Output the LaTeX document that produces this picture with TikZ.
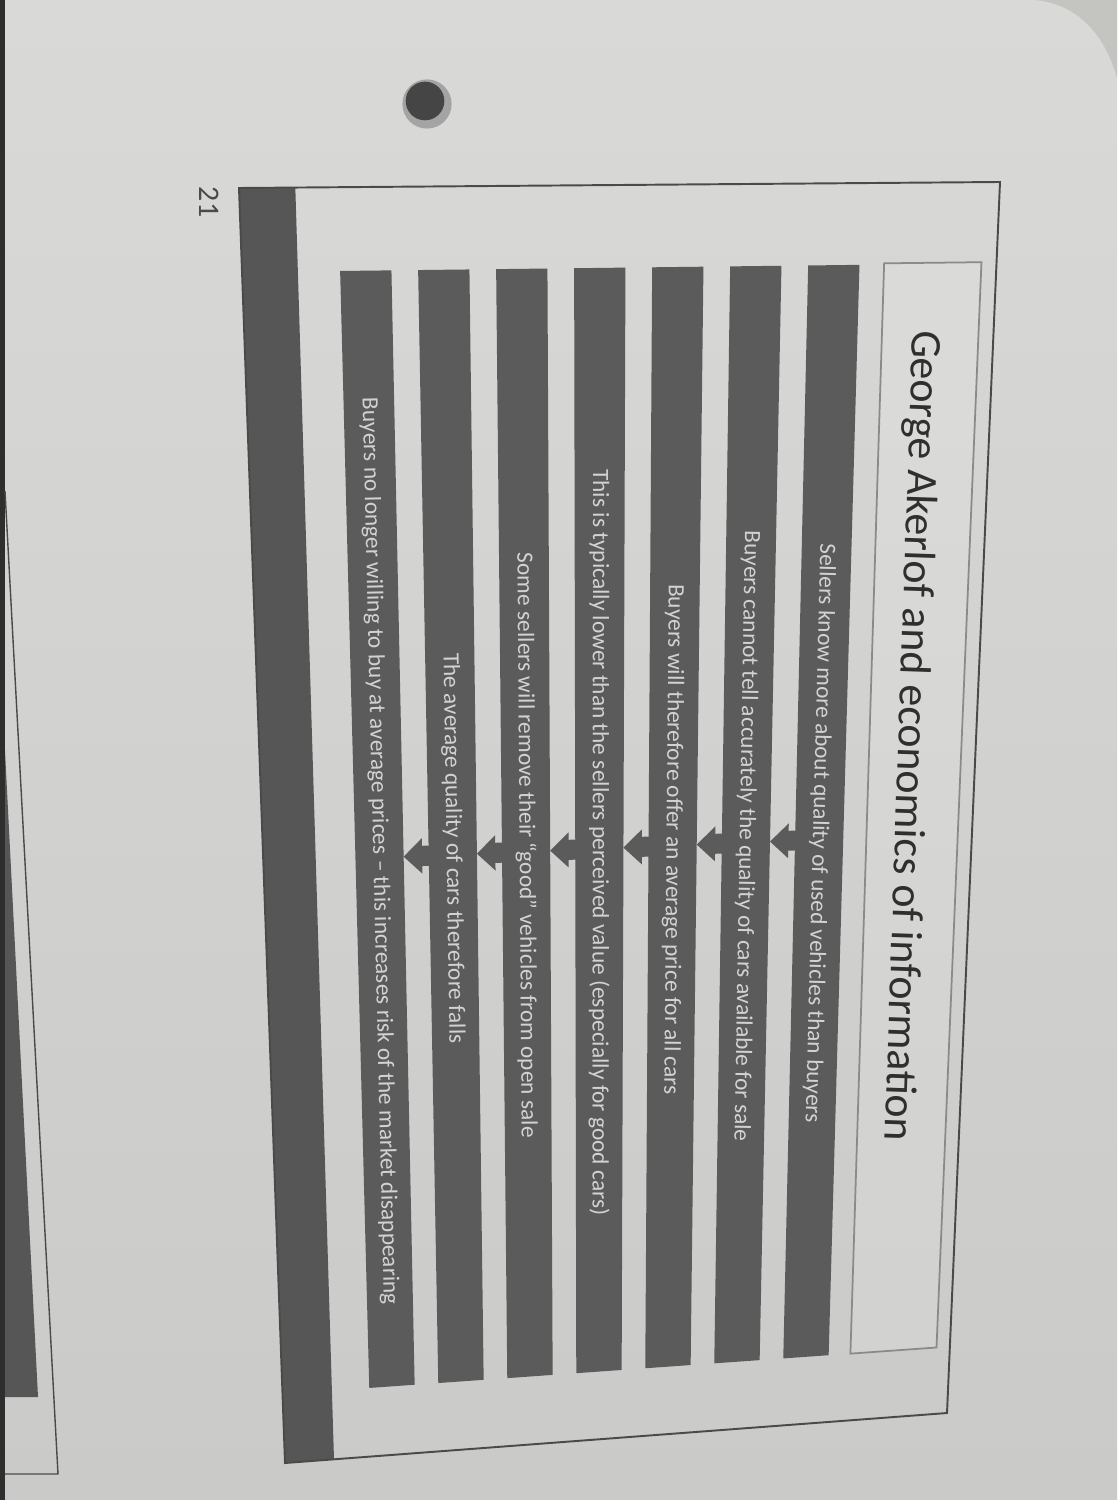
\documentclass[tikz,border=0pt]{standalone}
\usepackage{fontspec}
\newfontfamily\carlito{Carlito}
\definecolor{paperTop}{HTML}{D9D9D7}
\definecolor{paperBot}{HTML}{CACAC8}
\definecolor{barGrey}{HTML}{5B5B5B}
\definecolor{bandGrey}{HTML}{565656}
\definecolor{frameGrey}{HTML}{4A4A4A}
\definecolor{titleEdge}{HTML}{8A8A8A}
\definecolor{barText}{HTML}{D2D2D2}
\definecolor{titleText}{HTML}{2F2F2F}
\definecolor{cornerGrey}{HTML}{C4C4C1}
\definecolor{edgeDark}{HTML}{2E2E2E}
\definecolor{holeDark}{HTML}{454545}
\definecolor{holeRim}{HTML}{A4A4A4}
% bilinear map of the photographed slide: #1 = along the slide text direction (0..1), #2 = across (0 = bottom band, 1 = top edge)
\newcommand{\slpt}[2]{({(1-(#2))*(239+(#1)*46)+(#2)*(1000-(#1)*53)},{(1-(#2))*(188+(#1)*1275)+(#2)*(182+(#1)*1231)})}
\begin{document}
\begin{tikzpicture}[x=0.02cm,y=-0.02cm,
  bar/.style={fill=barGrey},
  bartext/.style={font=\carlito\fontsize{13.3}{13.3}\selectfont, text=barText, inner sep=0pt},
  titletext/.style={font=\carlito\fontsize{25}{25}\selectfont, text=titleText, inner sep=0pt},
  slideframe/.style={draw=frameGrey, line width=1.1pt},
  titlebox/.style={draw=titleEdge, line width=1pt, fill=white, fill opacity=0.12},
  pagenum/.style={font=\carlito\fontsize{17}{17}\selectfont, text=frameGrey, inner sep=0pt}]
\useasboundingbox (0,0) rectangle (1117,1500);
% paper
\fill[top color=paperTop, bottom color=paperBot] (0,0) rectangle (1117,1500);
% top-right corner outside the sheet
\fill[cornerGrey] (1035,0) .. controls (1078,4) and (1105,35) .. (1117,78) -- (1117,0) -- cycle;
% left edge: dark background and the sheet beneath
\fill[edgeDark] (0,0) rectangle (5,1500);
\fill[bandGrey] (5,751) -- (38,1397) -- (5,1397) -- cycle;
\draw[frameGrey, line width=0.8pt] (5,491) -- (58,1474) -- (5,1474);
% punched hole
\fill[holeRim] (427,104) circle[radius=14pt];
\fill[holeDark] (425,101) circle[radius=11pt];
% page number
\node[pagenum, rotate=-90] (pnum) at (209,202) {21};
% slide
\fill[bandGrey] \slpt{0}{0} -- \slpt{0}{0.074} -- \slpt{1}{0.074} -- \slpt{1}{0} -- cycle;
\draw[slideframe] \slpt{0}{0} -- \slpt{0}{1} -- \slpt{1}{1} -- \slpt{1}{0} -- cycle;
% title
\filldraw[titlebox] \slpt{0.065}{0.851} -- \slpt{0.065}{0.980} -- \slpt{0.946}{0.980} -- \slpt{0.946}{0.851} -- cycle;
\path \slpt{0}{0.892} -- \slpt{1}{0.892} node[titletext, pos=0.119, sloped, allow upside down, anchor=base west] (title) {George Akerlof and economics of information};
% bars
\foreach \k/\txt in {
  0/{Buyers no longer willing to buy at average prices – this increases risk of the market disappearing},
  1/{The average quality of cars therefore falls},
  2/{Some sellers will remove their “good” vehicles from open sale},
  3/{This is typically lower than the sellers perceived value (especially for good cars)},
  4/{Buyers will therefore offer an average price for all cars},
  5/{Buyers cannot tell accurately the quality of cars available for sale},
  6/{Sellers know more about quality of used vehicles than buyers}} {
  \pgfmathsetmacro\ta{0.130+0.1034*\k}
  \pgfmathsetmacro\tb{\ta+0.068}
  \pgfmathsetmacro\tc{\ta+0.034}
  \fill[bar] \slpt{0.066}{\ta} -- \slpt{0.066}{\tb} -- \slpt{0.946}{\tb} -- \slpt{0.946}{\ta} -- cycle;
  \path \slpt{0}{\tc} -- \slpt{1}{\tc} node[bartext, pos=0.524, sloped, allow upside down] (b\k) {\txt};
}
% down arrows between consecutive bars
\foreach \k in {0,...,5} {
  \pgfmathsetmacro\tp{0.130+0.1034*\k+0.068}
  \pgfmathsetmacro\th{\tp+0.026}
  \pgfmathsetmacro\te{0.130+0.1034*(\k+1)+0.006}
  \fill[bar] \slpt{0.529}{\tp} -- \slpt{0.5150}{\th} -- \slpt{0.521}{\th} -- \slpt{0.521}{\te} -- \slpt{0.537}{\te} -- \slpt{0.537}{\th} -- \slpt{0.5430}{\th} -- cycle;
}
\end{tikzpicture}
\end{document}
